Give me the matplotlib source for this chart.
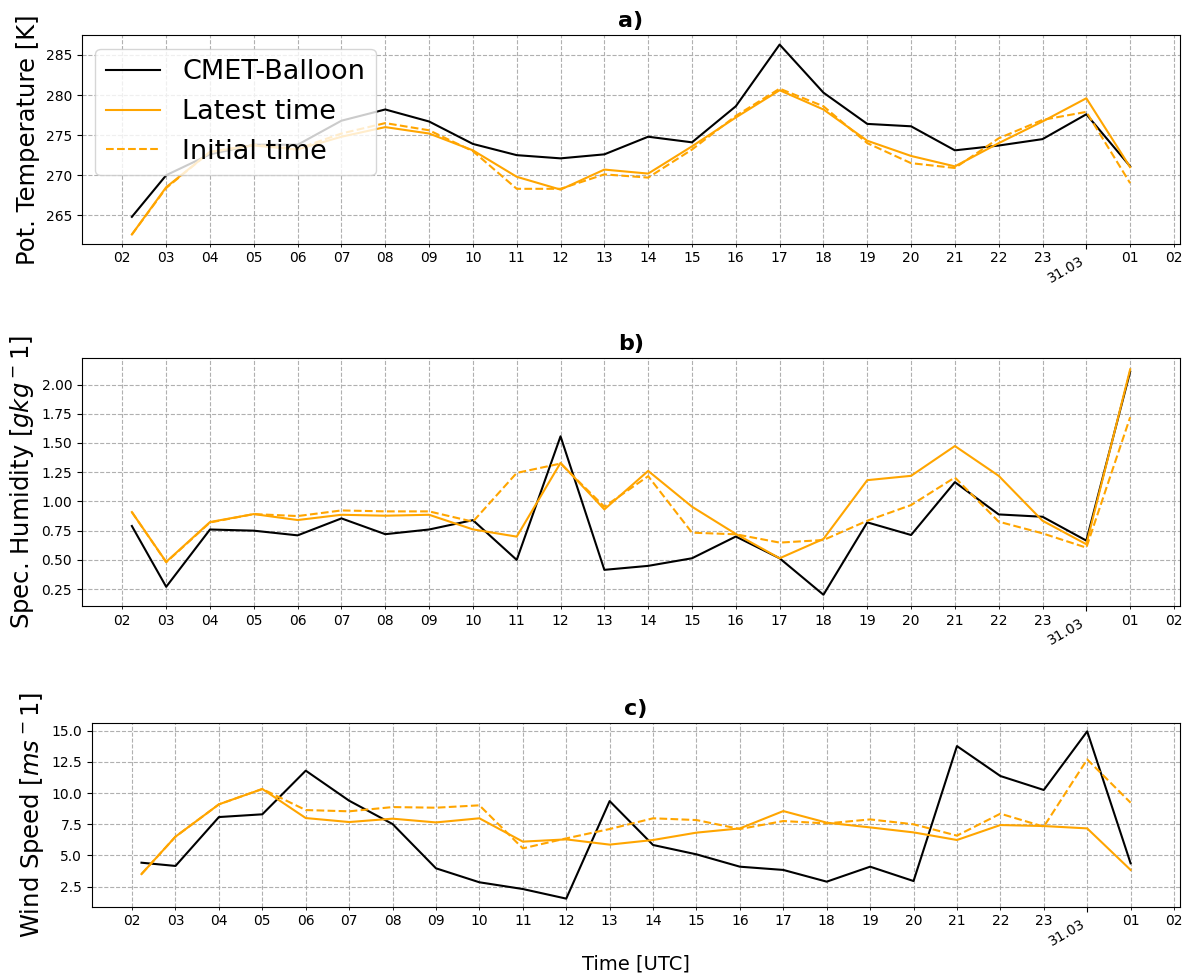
import matplotlib
matplotlib.use("Agg")
import matplotlib.pyplot as plt
import matplotlib.dates as mdates
from matplotlib.ticker import MultipleLocator
import pandas as pd

times = pd.to_datetime([
    "2023-03-30 02:13", "2023-03-30 03:00", "2023-03-30 04:00", "2023-03-30 05:00",
    "2023-03-30 06:00", "2023-03-30 07:00", "2023-03-30 08:00", "2023-03-30 09:00",
    "2023-03-30 10:00", "2023-03-30 11:00", "2023-03-30 12:00", "2023-03-30 13:00",
    "2023-03-30 14:00", "2023-03-30 15:00", "2023-03-30 16:00", "2023-03-30 17:00",
    "2023-03-30 18:00", "2023-03-30 19:00", "2023-03-30 20:00", "2023-03-30 21:00",
    "2023-03-30 22:00", "2023-03-30 23:00", "2023-03-31 00:00", "2023-03-31 01:00",
])

# potential temperature [K]
theta_obs = [264.8, 270.0, 272.6, 273.8, 273.8, 276.8, 278.2, 276.7, 273.9, 272.5, 272.1, 272.6,
             274.8, 274.1, 278.6, 286.3, 280.3, 276.4, 276.1, 273.1, 273.7, 274.5, 277.6, 271.1]
theta_latest = [262.6, 268.5, 272.9, 273.7, 273.2, 274.8, 276.0, 275.2, 273.1, 269.8, 268.2, 270.7,
                270.2, 273.6, 277.2, 280.6, 278.2, 274.3, 272.4, 271.1, 274.0, 276.7, 279.6, 271.0]
theta_initial = [262.6, 268.4, 272.9, 273.8, 273.3, 275.2, 276.5, 275.6, 273.0, 268.3, 268.3, 270.1,
                 269.7, 273.2, 277.4, 280.8, 278.6, 274.0, 271.5, 270.9, 274.6, 276.9, 277.9, 269.0]

# specific humidity [g/kg]
q_obs = [0.79, 0.27, 0.76, 0.75, 0.71, 0.855, 0.72, 0.76, 0.84, 0.50, 1.557, 0.415,
         0.449, 0.514, 0.70, 0.514, 0.202, 0.821, 0.713, 1.165, 0.889, 0.869, 0.665, 2.11]
q_latest = [0.909, 0.483, 0.824, 0.892, 0.841, 0.886, 0.878, 0.886, 0.761, 0.699, 1.33, 0.932,
            1.261, 0.955, 0.722, 0.514, 0.679, 1.182, 1.219, 1.474, 1.219, 0.835, 0.634, 2.13]
q_initial = [0.909, 0.48, 0.82, 0.892, 0.875, 0.923, 0.915, 0.915, 0.827, 1.244, 1.324, 0.955,
             1.216, 0.733, 0.719, 0.648, 0.67, 0.835, 0.969, 1.205, 0.827, 0.727, 0.605, 1.72]

# wind speed [m/s]
ws_obs = [4.42, 4.16, 8.08, 8.30, 11.8, 9.39, 7.52, 3.97, 2.85, 2.31, 1.54, 9.36,
          5.84, 5.09, 4.10, 3.84, 2.90, 4.10, 2.95, 13.77, 11.37, 10.25, 14.95, 4.37]
ws_latest = [3.51, 6.51, 9.1, 10.33, 8.0, 7.68, 7.95, 7.65, 7.98, 6.11, 6.29, 5.87,
             6.24, 6.83, 7.17, 8.56, 7.63, 7.25, 6.85, 6.24, 7.44, 7.36, 7.17, 3.84]
ws_initial = [3.51, 6.51, 9.1, 10.33, 8.64, 8.54, 8.88, 8.83, 9.02, 5.57, 6.37, 7.12,
              7.98, 7.84, 7.12, 7.76, 7.57, 7.89, 7.5, 6.59, 8.35, 7.31, 12.70, 9.23]


def setup_time_axis(ax):
    ax.xaxis.set_major_locator(mdates.DayLocator())
    ax.xaxis.set_major_formatter(mdates.DateFormatter("%d.%m"))
    ax.xaxis.set_minor_locator(mdates.HourLocator())
    ax.xaxis.set_minor_formatter(mdates.DateFormatter("%H"))
    plt.setp(ax.get_xticklabels(which="major"), rotation=30, ha="right")
    ax.grid(which="both", linestyle="--")


def main():
    fig = plt.figure(figsize=(11.86, 9.74), dpi=100)
    ax1 = fig.add_axes([0.0691, 0.7495, 0.9259, 0.2145])
    ax2 = fig.add_axes([0.0691, 0.3778, 0.9259, 0.2546])
    ax3 = fig.add_axes([0.0776, 0.0688, 0.9174, 0.1889])

    panels = [
        (ax1, theta_obs, theta_latest, theta_initial, "Pot. Temperature [K]", "a)"),
        (ax2, q_obs, q_latest, q_initial, "Spec. Humidity [$gkg^-1$]", "b)"),
        (ax3, ws_obs, ws_latest, ws_initial, "Wind Speed [$ms^-1$]", "c)"),
    ]
    for ax, obs, latest, initial, ylabel, title in panels:
        ax.plot(times, obs, color="black", label="CMET-Balloon")
        ax.plot(times, latest, color="orange", label="Latest time")
        ax.plot(times, initial, color="orange", linestyle="--", label="Initial time")
        ax.set_ylabel(ylabel, fontsize=17.5)
        ax.set_title(title, fontsize=16, fontweight="bold")
        setup_time_axis(ax)

    ax2.yaxis.set_major_locator(MultipleLocator(0.25))
    ax1.legend(loc="upper left", fontsize=19.5)
    ax3.set_xlabel("Time [UTC]", fontsize=14)

    fig.savefig("out.png", dpi=100)


if __name__ == "__main__":
    main()
